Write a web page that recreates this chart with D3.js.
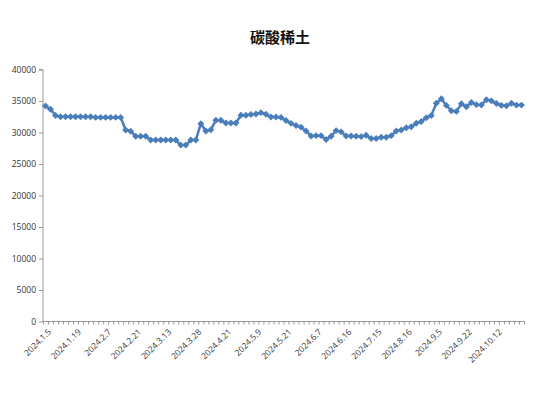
<!DOCTYPE html>
<html>
<head>
<meta charset="utf-8">
<script src="https://cdn.jsdelivr.net/npm/d3@7"></script>
<style>
  body { margin: 0; background: #fff; }
  .axis text { font-family: "Open Sans", "Liberation Sans", sans-serif; font-size: 8.5px; fill: #333; }
  .axis path, .axis line { stroke: #999; }
</style>
</head>
<body>
<div id="chart"></div>
<script>
// values, one per category (96 points)
var prices = [
  34200, 33700, 32700, 32500, 32500, 32500, 32500, 32500, 32500, 32500,
  32400, 32400, 32400, 32400, 32400, 32400, 30400, 30200, 29400, 29400,
  29400, 28800, 28800, 28800, 28800, 28800, 28800, 28000, 28000, 28800,
  28800, 31400, 30250, 30450, 31950, 31950, 31500, 31500, 31500, 32750,
  32750, 32850, 32950, 33150, 32900, 32450, 32450, 32400, 31900, 31450,
  31100, 30850, 30250, 29450, 29500, 29500, 28900, 29400, 30300, 30100,
  29450, 29450, 29400, 29350, 29550, 29050, 29050, 29250, 29250, 29500,
  30250, 30400, 30750, 30900, 31460, 31750, 32350, 32700, 34630, 35350,
  34300, 33450, 33350, 34550, 34100, 34770, 34420, 34370, 35200, 35020,
  34600, 34300, 34250, 34630, 34350, 34350
];
var categories = d3.range(prices.length);

// only every 6th category carries a label
var tickLabels = ["2024.1.5", "2024.1.19", "2024.2.7", "2024.2.21", "2024.3.13", "2024.3.28",
  "2024.4.21", "2024.5.9", "2024.5.21", "2024.6.7", "2024.6.16", "2024.7.15",
  "2024.8.16", "2024.9.5", "2024.9.22", "2024.10.12"];
var yTicks = [0, 5000, 10000, 15000, 20000, 25000, 30000, 35000, 40000];

var svgWidth = 556, svgHeight = 394;
var plot = { left: 43, right: 524, top: 69.5, bottom: 321.5 };

var svg = d3.select("#chart")
  .append("svg")
  .attr("width", svgWidth)
  .attr("height", svgHeight);

// title
svg.append("text")
  .attr("x", 280)
  .attr("y", 43)
  .attr("text-anchor", "middle")
  .style("font-family", "'Noto Sans CJK SC', sans-serif")
  .style("font-size", "15px")
  .style("font-weight", "bold")
  .style("fill", "#111")
  .text("碳酸稀土");

// scales
var x = d3.scaleBand()
  .domain(categories)
  .range([plot.left, plot.right])
  .padding(0);

var xEdge = d3.scaleLinear()
  .domain([0, categories.length])
  .range([plot.left, plot.right]);

var y = d3.scaleLinear()
  .domain([0, 40000])
  .range([plot.bottom, plot.top]);

// y axis
var leftAxis = d3.axisLeft(y).tickValues(yTicks).tickSize(4).tickPadding(3).tickFormat(d3.format("d"));
svg.append("g")
  .attr("class", "axis")
  .attr("transform", `translate(${plot.left},0)`)
  .call(leftAxis)
  .call(g => g.select(".domain").attr("d", `M-4,${plot.top}H0V${plot.bottom}`));

// x axis: small ticks on every category edge
svg.append("g")
  .attr("class", "axis")
  .attr("transform", `translate(0,${plot.bottom})`)
  .call(d3.axisBottom(xEdge).tickValues(d3.range(categories.length + 1)).tickSize(3).tickFormat(""))
  .call(g => g.select(".domain").attr("d", `M${plot.left},0H${plot.right}`));

// x labels, rotated
var labelCats = categories.filter(i => i % 6 === 0);
svg.append("g")
  .attr("class", "axis")
  .attr("transform", `translate(0,${plot.bottom})`)
  .call(d3.axisBottom(x).tickValues(labelCats).tickSize(0).tickFormat(i => tickLabels[i / 6]))
  .call(g => g.select(".domain").remove())
  .selectAll("text")
  .attr("text-anchor", "end")
  .attr("transform", "translate(4,9) rotate(-45)")
  .attr("dy", "0.35em")
  .attr("y", 0);

// line
var line = d3.line()
  .x((d, i) => x(i) + x.bandwidth() / 2)
  .y(d => y(d));

svg.append("path")
  .datum(prices)
  .attr("fill", "none")
  .attr("stroke", "#4a7ebb")
  .attr("stroke-width", 2.5)
  .attr("stroke-linejoin", "round")
  .attr("d", line);

// diamond markers (square turned 45 degrees)
svg.selectAll(".marker")
  .data(prices)
  .enter()
  .append("path")
  .attr("class", "marker")
  .attr("d", d3.symbol(d3.symbolSquare).size(24))
  .attr("transform", (d, i) => `translate(${x(i) + x.bandwidth() / 2},${y(d)}) rotate(45)`)
  .attr("fill", "#4a7ebb");
</script>
</body>
</html>
